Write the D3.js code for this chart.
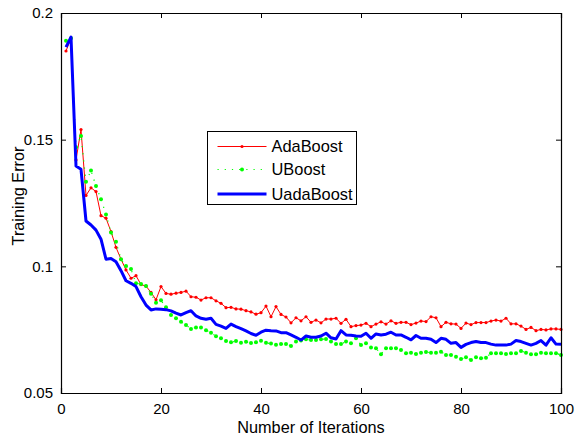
<!DOCTYPE html>
<html>
<head>
<meta charset="utf-8">
<script src="https://cdn.jsdelivr.net/npm/d3@7"></script>
<style>
  html, body { margin: 0; padding: 0; background: #fff; }
  svg { display: block; font-family: "Liberation Sans", Arial, sans-serif; }
</style>
</head>
<body>
<svg id="chart" width="576" height="441"></svg>
<script>
// Training error per boosting iteration (iterations 1..100)
const iterations = d3.range(1, 101);

const adaBoost = [
  0.185, 0.190, 0.142, 0.154, 0.128, 0.131, 0.1295, 0.120, 0.119, 0.1137,
  0.1075, 0.1028, 0.0986, 0.0953, 0.0963, 0.0928, 0.0922, 0.0897, 0.0868, 0.0920,
  0.0893, 0.0890, 0.0894, 0.0897, 0.0902, 0.0880, 0.0878, 0.0867, 0.0876, 0.0876,
  0.0864, 0.0854, 0.0837, 0.0838, 0.0832, 0.0831, 0.0825, 0.0820, 0.0811, 0.0817,
  0.0843, 0.0801, 0.0841, 0.0810, 0.0800, 0.0777, 0.0797, 0.0785, 0.0801, 0.0779,
  0.0788, 0.0777, 0.0792, 0.0792, 0.0795, 0.0775, 0.0791, 0.0762, 0.0766, 0.0768,
  0.0775, 0.0762, 0.0772, 0.0781, 0.0772, 0.0785, 0.0775, 0.0779, 0.0779, 0.0770,
  0.0776, 0.0784, 0.0782, 0.0801, 0.0797, 0.0762, 0.0779, 0.0773, 0.0772, 0.0755,
  0.0776, 0.0770, 0.0778, 0.0778, 0.0778, 0.0784, 0.0788, 0.0784, 0.0795, 0.0773,
  0.0773, 0.0764, 0.0751, 0.0759, 0.0746, 0.0751, 0.0749, 0.0753, 0.0753, 0.0751
];

const uBoost = [
  0.189, 0.190, 0.147, 0.1514, 0.1334, 0.1378, 0.1317, 0.1265, 0.1205, 0.1134,
  0.1097, 0.1028, 0.1001, 0.0989, 0.0933, 0.0930, 0.0922, 0.0892, 0.0856, 0.0866,
  0.0838, 0.0808, 0.0795, 0.0781, 0.0768, 0.0753, 0.0759, 0.0759, 0.0748, 0.0738,
  0.0724, 0.0716, 0.0705, 0.0700, 0.0705, 0.0698, 0.0702, 0.0697, 0.0700, 0.0706,
  0.0698, 0.0695, 0.0690, 0.0693, 0.0693, 0.0686, 0.0703, 0.0707, 0.0712, 0.0709,
  0.0709, 0.0712, 0.0713, 0.0703, 0.0693, 0.0693, 0.0703, 0.0696, 0.0716, 0.0689,
  0.0696, 0.0680, 0.0677, 0.0653, 0.0677, 0.0677, 0.0677, 0.0670, 0.0657, 0.0659,
  0.0654, 0.0659, 0.0662, 0.0659, 0.0659, 0.0663, 0.0650, 0.0650, 0.0643, 0.0634,
  0.0641, 0.0630, 0.0641, 0.0637, 0.0639, 0.0657, 0.0657, 0.0657, 0.0654, 0.0657,
  0.0657, 0.0666, 0.0659, 0.0653, 0.0653, 0.0659, 0.0657, 0.0657, 0.0657, 0.0650
];

const uadaBoost = [
  0.1865, 0.1905, 0.1396, 0.1383, 0.1179, 0.1163, 0.1143, 0.1107, 0.1028, 0.1031,
  0.1018, 0.0983, 0.0943, 0.0933, 0.0920, 0.0880, 0.0847, 0.0828, 0.0832, 0.0831,
  0.0829, 0.0824, 0.0815, 0.0808, 0.0817, 0.0825, 0.0804, 0.0795, 0.0791, 0.0795,
  0.0771, 0.0764, 0.0755, 0.0772, 0.0762, 0.0754, 0.0745, 0.0735, 0.0728, 0.0740,
  0.0748, 0.0746, 0.0745, 0.0738, 0.0738, 0.0729, 0.0720, 0.0709, 0.0725, 0.0720,
  0.0720, 0.0725, 0.0736, 0.0718, 0.0713, 0.0746, 0.0729, 0.0728, 0.0725, 0.0724,
  0.0736, 0.0716, 0.0733, 0.0729, 0.0732, 0.0740, 0.0729, 0.0729, 0.0720, 0.0710,
  0.0727, 0.0716, 0.0716, 0.0712, 0.0699, 0.0716, 0.0712, 0.0696, 0.0699, 0.0680,
  0.0692, 0.0699, 0.0703, 0.0699, 0.0699, 0.0693, 0.0689, 0.0689, 0.0689, 0.0693,
  0.0707, 0.0703, 0.0696, 0.0689, 0.0696, 0.0707, 0.0689, 0.0718, 0.0693, 0.0692
];

const xTicks = [0, 20, 40, 60, 80, 100];
const yTicks = [0.05, 0.1, 0.15, 0.2];
const seriesNames = ["AdaBoost", "UBoost", "UadaBoost"];

const svg = d3.select("#chart");
const plotLeft = 61, plotRight = 561, plotTop = 13, plotBottom = 393;

const x = d3.scaleLinear().domain([0, 100]).range([plotLeft, plotRight]);
const y = d3.scaleLinear().domain([0.05, 0.2]).range([plotBottom, plotTop]);

const toPoints = vals => vals.map((v, i) => [iterations[i], v]);
const line = d3.line().x(d => x(d[0])).y(d => y(d[1]));

const dotted = "1.2,6";
const plot = svg.append("g");

// AdaBoost: thin red line with point markers
plot.append("path")
  .attr("d", line(toPoints(adaBoost)))
  .attr("fill", "none").attr("stroke", "#ff0000").attr("stroke-width", 1);
plot.append("g").selectAll("circle").data(toPoints(adaBoost)).join("circle")
  .attr("cx", d => x(d[0])).attr("cy", d => y(d[1])).attr("r", 1.6)
  .attr("fill", "#ff0000");

// UBoost: dotted green line with point markers
plot.append("path")
  .attr("d", line(toPoints(uBoost)))
  .attr("fill", "none").attr("stroke", "#00ff00").attr("stroke-width", 1.2)
  .attr("stroke-dasharray", dotted);
plot.append("g").selectAll("circle").data(toPoints(uBoost)).join("circle")
  .attr("cx", d => x(d[0])).attr("cy", d => y(d[1])).attr("r", 2)
  .attr("fill", "#00ff00");

// UadaBoost: thick blue line
plot.append("path")
  .attr("d", line(toPoints(uadaBoost)))
  .attr("fill", "none").attr("stroke", "#0000ff").attr("stroke-width", 3)
  .attr("stroke-linejoin", "round");

// Axes: ticks point inward on all four sides
const tickLen = 5;
const axB = svg.append("g").attr("transform", `translate(0,${plotBottom})`)
  .call(d3.axisBottom(x).tickValues(xTicks).tickSize(-tickLen).tickPadding(10).tickFormat(d3.format("d")));
const axT = svg.append("g").attr("transform", `translate(0,${plotTop})`)
  .call(d3.axisTop(x).tickValues(xTicks).tickSize(-tickLen).tickFormat(""));
const axL = svg.append("g").attr("transform", `translate(${plotLeft},0)`)
  .call(d3.axisLeft(y).tickValues(yTicks).tickSize(-tickLen).tickPadding(8).tickFormat(d => String(+d.toFixed(2))));
const axR = svg.append("g").attr("transform", `translate(${plotRight},0)`)
  .call(d3.axisRight(y).tickValues(yTicks).tickSize(-tickLen).tickFormat(""));

[axB, axT, axL, axR].forEach(g => {
  g.select(".domain").attr("stroke", "#000").attr("stroke-width", 1.2);
  g.selectAll(".tick line").attr("stroke", "#000").attr("stroke-width", 1);
  g.selectAll("text").attr("fill", "#000").style("font-size", "15px")
    .style("font-family", "'Liberation Sans', Arial, sans-serif");
});
// ticks at the axis ends coincide with the frame
axB.selectAll(".tick line").filter(d => d === 0 || d === 100).remove();
axT.selectAll(".tick line").filter(d => d === 0 || d === 100).remove();
axL.selectAll(".tick line").filter(d => d === 0.05 || d === 0.2).remove();
axR.selectAll(".tick line").filter(d => d === 0.05 || d === 0.2).remove();

// Axis titles
svg.append("text")
  .attr("x", (plotLeft + plotRight) / 2).attr("y", 433)
  .attr("text-anchor", "middle").style("font-size", "16.3px")
  .text("Number of Iterations");
svg.append("text")
  .attr("transform", "translate(24,196) rotate(-90)")
  .attr("text-anchor", "middle").style("font-size", "16.3px")
  .text("Training Error");

// Legend
const lg = svg.append("g").attr("transform", "translate(207.5,131.5)");
lg.append("rect").attr("width", 149).attr("height", 73)
  .attr("fill", "#fff").attr("stroke", "#000").attr("stroke-width", 1);
const rows = [15, 38, 62.5];
const styles = [
  { color: "#ff0000", width: 1, dash: null, r: 1.6 },
  { color: "#00ff00", width: 1.2, dash: dotted, r: 2 },
  { color: "#0000ff", width: 3, dash: null, r: 0 }
];
seriesNames.forEach((name, k) => {
  const row = lg.append("g").attr("transform", `translate(0,${rows[k]})`);
  const s = styles[k];
  row.append("line").attr("x1", 10).attr("x2", 59).attr("y1", 0).attr("y2", 0)
    .attr("stroke", s.color).attr("stroke-width", s.width)
    .attr("stroke-dasharray", s.dash);
  if (s.r > 0) {
    row.append("circle").attr("cx", 34.5).attr("cy", 0).attr("r", s.r).attr("fill", s.color);
  }
  row.append("text").attr("x", 64).attr("y", 0).attr("dy", "0.35em")
    .style("font-size", "16.4px").text(name);
});
</script>
</body>
</html>
